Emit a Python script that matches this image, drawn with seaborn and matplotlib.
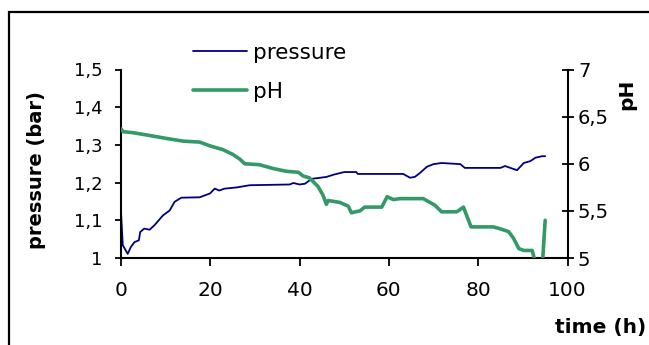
import matplotlib
matplotlib.use("Agg")
import matplotlib.pyplot as plt
import seaborn as sns
import pandas as pd
from matplotlib.patches import Rectangle

# ---- data ----
time_pressure = [0, 0.4, 1.5, 2.2, 3.0, 4.0, 4.3, 5.2, 6.4, 7.5, 9.4, 10.9, 12.0, 13.5,
                 17.6, 19.9, 21.0, 22.0, 23.2, 25.8, 28.8, 37.8, 38.6, 40.0, 41.2, 42.7,
                 46.0, 47.6, 50.0, 52.7, 53.0, 63.2, 64.7, 65.8, 67.0, 68.5, 70.0, 71.8,
                 76.0, 77.0, 85.0, 86.0, 87.2, 88.7, 90.2, 91.7, 92.8, 94.3, 95.0]
pressure = [1.122, 1.034, 1.011, 1.029, 1.042, 1.047, 1.069, 1.078, 1.075, 1.087, 1.113,
            1.126, 1.149, 1.160, 1.161, 1.171, 1.184, 1.179, 1.184, 1.187, 1.193, 1.195,
            1.199, 1.195, 1.197, 1.210, 1.215, 1.221, 1.228, 1.228, 1.223, 1.223, 1.213,
            1.215, 1.226, 1.242, 1.249, 1.252, 1.249, 1.239, 1.239, 1.244, 1.239, 1.233,
            1.252, 1.257, 1.266, 1.270, 1.270]

time_ph = [0, 0.5, 2.6, 6.4, 10.0, 13.9, 17.6, 19.9, 22.8, 25.0, 26.6, 27.7, 31.0, 34.0,
           37.0, 39.7, 40.8, 42.2, 44.1, 45.2, 46.0, 46.4, 49.0, 50.9, 51.6, 53.5, 54.6,
           58.4, 59.6, 61.0, 62.5, 67.7, 68.8, 70.3, 71.8, 75.2, 76.7, 77.5, 78.4, 83.4,
           84.9, 86.8, 87.9, 89.1, 90.2, 92.1, 92.8, 94.4, 95.0]
ph = [6.37, 6.34, 6.33, 6.30, 6.27, 6.24, 6.23, 6.19, 6.15, 6.10, 6.05, 6.00, 5.99, 5.95,
      5.92, 5.91, 5.87, 5.85, 5.76, 5.67, 5.57, 5.61, 5.59, 5.55, 5.48, 5.50, 5.54,
      5.54, 5.65, 5.62, 5.63, 5.63, 5.60, 5.56, 5.49, 5.49, 5.54, 5.44, 5.33, 5.33,
      5.31, 5.28, 5.21, 5.10, 5.08, 5.08, 4.95, 4.95, 5.40]

x_ticks = [0, 20, 40, 60, 80, 100]
x_ticklabels = ["0", "20", "40", "60", "80", "100"]
p_ticks = [1.0, 1.1, 1.2, 1.3, 1.4, 1.5]
p_ticklabels = ["1", "1,1", "1,2", "1,3", "1,4", "1,5"]
ph_ticks = [5.0, 5.5, 6.0, 6.5, 7.0]
ph_ticklabels = ["5", "5,5", "6", "6,5", "7"]

df_p = pd.DataFrame({"time (h)": time_pressure, "pressure": pressure})
df_ph = pd.DataFrame({"time (h)": time_ph, "pH": ph})

sns.set_style("ticks")
plt.rcParams["font.family"] = ["DejaVu Sans"]
plt.rcParams.update({"text.color": "black", "axes.labelcolor": "black",
                     "xtick.color": "black", "ytick.color": "black"})

fig = plt.figure(figsize=(6.49, 3.45), dpi=100)
ax = fig.add_axes([121 / 649, 1 - 258 / 345, (567.5 - 121) / 649, (258 - 69.5) / 345])
ax2 = ax.twinx()

navy = "#000080"
green = "#339966"

sns.lineplot(data=df_p, x="time (h)", y="pressure", ax=ax, color=navy, lw=1.3,
             label="pressure", legend=False)
sns.lineplot(data=df_ph, x="time (h)", y="pH", ax=ax2, color=green, lw=2.6,
             label="pH", legend=False)

ax.set_xlim(0, 100)
ax.set_ylim(1.0, 1.5)
ax2.set_ylim(5.0, 7.0)
ax.set_xticks(x_ticks)
ax.set_xticklabels(x_ticklabels)
ax.set_yticks(p_ticks)
ax.set_yticklabels(p_ticklabels)
ax2.set_yticks(ph_ticks)
ax2.set_yticklabels(ph_ticklabels)

for a in (ax, ax2):
    a.patch.set_visible(False)
    for s in a.spines.values():
        s.set_linewidth(1.5)
        s.set_color("black")
ax.spines["top"].set_visible(False)
ax.spines["right"].set_visible(False)
ax2.spines["top"].set_visible(False)
ax2.spines["left"].set_visible(False)
ax2.spines["bottom"].set_visible(False)

ax.tick_params(axis="y", direction="out", length=4.5, width=1.3, pad=9, labelsize=13,
               colors="black")
ax.tick_params(axis="x", direction="out", length=5.5, width=1.3, pad=11, labelsize=14.5,
               colors="black")
ax2.tick_params(axis="y", direction="inout", length=9, width=1.3, pad=3, labelsize=14,
                colors="black")

ax.set_xlabel("time (h)", fontsize=14.5, fontweight="bold", color="black")
ax.set_ylabel("pressure (bar)", fontsize=14, fontweight="bold", color="black")
ax2.set_ylabel("pH", fontsize=14.5, fontweight="bold", color="black")
for lab in (ax.xaxis.label, ax.yaxis.label, ax2.yaxis.label):
    lab.set_verticalalignment("center")
    lab.set_horizontalalignment("center")
    lab.set_rotation_mode("anchor")
ax2.yaxis.label.set_rotation(90)
ax.xaxis.set_label_coords((601 - 121) / 446.5, (258 - 328) / 188.5)
ax.yaxis.set_label_coords((37 - 121) / 446.5, (258 - 170) / 188.5)
ax2.yaxis.set_label_coords((627 - 121) / 446.5, (258 - 94) / 188.5)

h1, l1 = ax.get_legend_handles_labels()
h2, l2 = ax2.get_legend_handles_labels()
leg = fig.legend(h1 + h2, l1 + l2, loc="upper left", bbox_to_anchor=(193 / 649, 1 - 43 / 345),
                 frameon=False, fontsize=15.5, handlelength=2.5, handletextpad=0.3,
                 labelspacing=0.88, borderpad=0, borderaxespad=0)
for t in leg.get_texts():
    t.set_color("black")

# outer chart-area frame
fig.patches.append(Rectangle((9 / 649, -0.2), 1.2, 1.2 - 12 / 345,
                             transform=fig.transFigure, fill=False, lw=1.6,
                             edgecolor="black", zorder=10))

fig.savefig("out.png", dpi=100)
